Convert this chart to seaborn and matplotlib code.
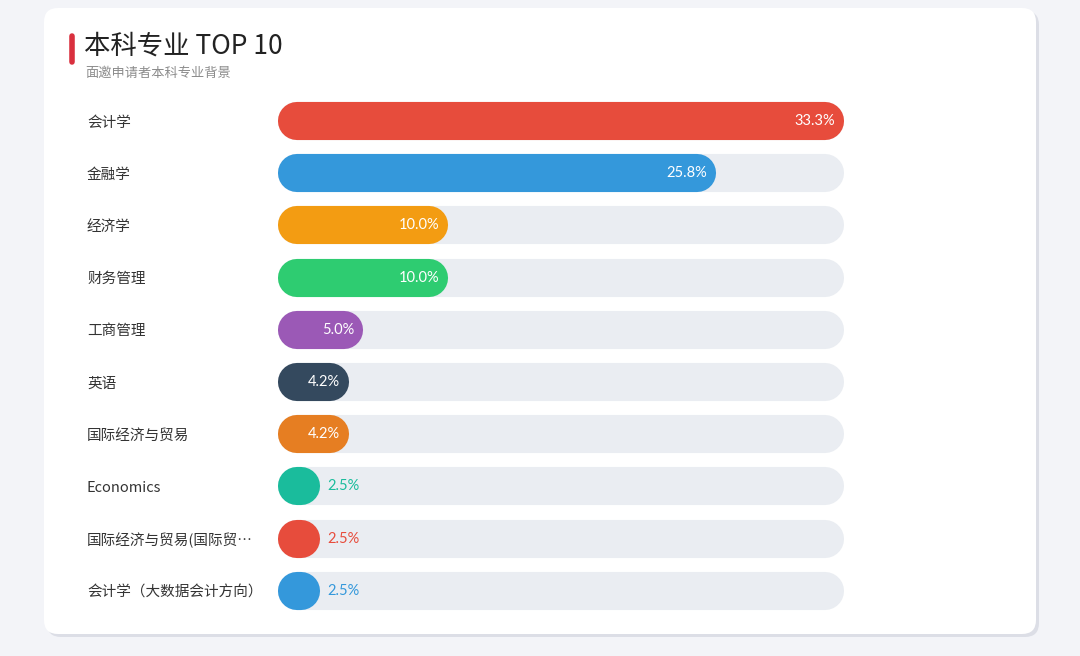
import pandas as pd
import seaborn as sns
import matplotlib.pyplot as plt
from matplotlib.patches import FancyBboxPatch

# data
majors = ["会计学", "金融学", "经济学", "财务管理", "工商管理", "英语", "国际经济与贸易",
          "Economics", "国际经济与贸易(国际贸…", "会计学（大数据会计方向）"]
shares = [33.3, 25.8, 10.0, 10.0, 5.0, 4.2, 4.2, 2.5, 2.5, 2.5]
bar_colors = ["#e74c3c", "#3498db", "#f39c12", "#2ecc71", "#9b59b6",
              "#34495e", "#e67e22", "#1abc9c", "#e74c3c", "#3498db"]
title = "本科专业 TOP 10"
subtitle = "面邀申请者本科专业背景"

sns.set_theme(style="white")
plt.rcParams["font.family"] = ["Noto Sans CJK SC", "DejaVu Sans"]

W, H = 1080, 656
fig = plt.figure(figsize=(W / 100, H / 100), dpi=100)
fig.patch.set_facecolor("#f3f4f8")

# card background, in pixel coords
bg = fig.add_axes([0, 0, 1, 1])
bg.set_xlim(0, W)
bg.set_ylim(H, 0)
bg.axis("off")
bg.add_patch(FancyBboxPatch((47, 11), 992, 626, boxstyle="round,pad=0,rounding_size=14",
                            fc="#dcdee6", ec="none"))
bg.add_patch(FancyBboxPatch((44, 8), 992, 626, boxstyle="round,pad=0,rounding_size=14",
                            fc="white", ec="none"))
bg.plot([72, 72], [36, 62], color="#d9303e", lw=4, solid_capstyle="round")
bg.text(84, 46, title, fontsize=19, color="#222222", va="center")
bg.text(85, 73, subtitle, fontsize=9.5, color="#8c8c8c", va="center")

# bars
top_px, pitch = 121 - 26.1, 52.2
ax = fig.add_axes([278 / W, 1 - (top_px + pitch * 10) / H, 566 / W, pitch * 10 / H])
ax.patch.set_alpha(0)

df = pd.DataFrame({"major": majors, "share": shares})
df["track"] = max(shares)
sns.barplot(data=df, y="major", x="track", color="#eaedf2", width=0.73,
            saturation=1, ax=ax)
sns.barplot(data=df, y="major", x="share", hue="major", palette=bar_colors,
            width=0.73, saturation=1, legend=False, ax=ax)
ax.set_xlim(0, max(shares))
ax.set_ylim(9.5, -0.5)

ppx = ax.bbox.width / max(shares)
ppy = ax.bbox.height / 10

# turn every bar into a capsule: thick line with round caps
rects = list(ax.patches)
for p in rects:
    x, y, w, h = p.get_x(), p.get_y(), p.get_width(), p.get_height()
    if w <= 0:
        continue
    h_px = h * ppy
    r = (h_px / 2) / ppx
    x0, x1 = x + r, max(x + w - r, x + r + 1e-6)
    ax.plot([x0, x1], [y + h / 2, y + h / 2], color=p.get_facecolor(),
            lw=h_px * 72 / 100, solid_capstyle="round", zorder=p.get_zorder())
    p.set_visible(False)

for i, v in enumerate(shares):
    if v * ppx > 60:
        ax.text(v - 9 / ppx, i, f"{v:.1f}%", color="white", ha="right", va="center",
                fontsize=10.5, family=["Lato", "DejaVu Sans"], zorder=5)
    else:
        ax.text(v + 7 / ppx, i, f"{v:.1f}%", color=bar_colors[i], ha="left", va="center",
                fontsize=10.5, family=["Lato", "DejaVu Sans"], zorder=5)

ax.set_xlabel("")
ax.set_ylabel("")
ax.set_xticks([])
ax.set_yticks(range(len(majors)))
ax.set_yticklabels(majors)
ax.tick_params(axis="y", left=False, length=0, pad=(278 - 87) * 72 / 100,
               labelsize=10.5, labelcolor="#333333")
for lab in ax.get_yticklabels():
    lab.set_ha("left")
sns.despine(ax=ax, left=True, bottom=True)

fig.savefig("out.png", dpi=100)
